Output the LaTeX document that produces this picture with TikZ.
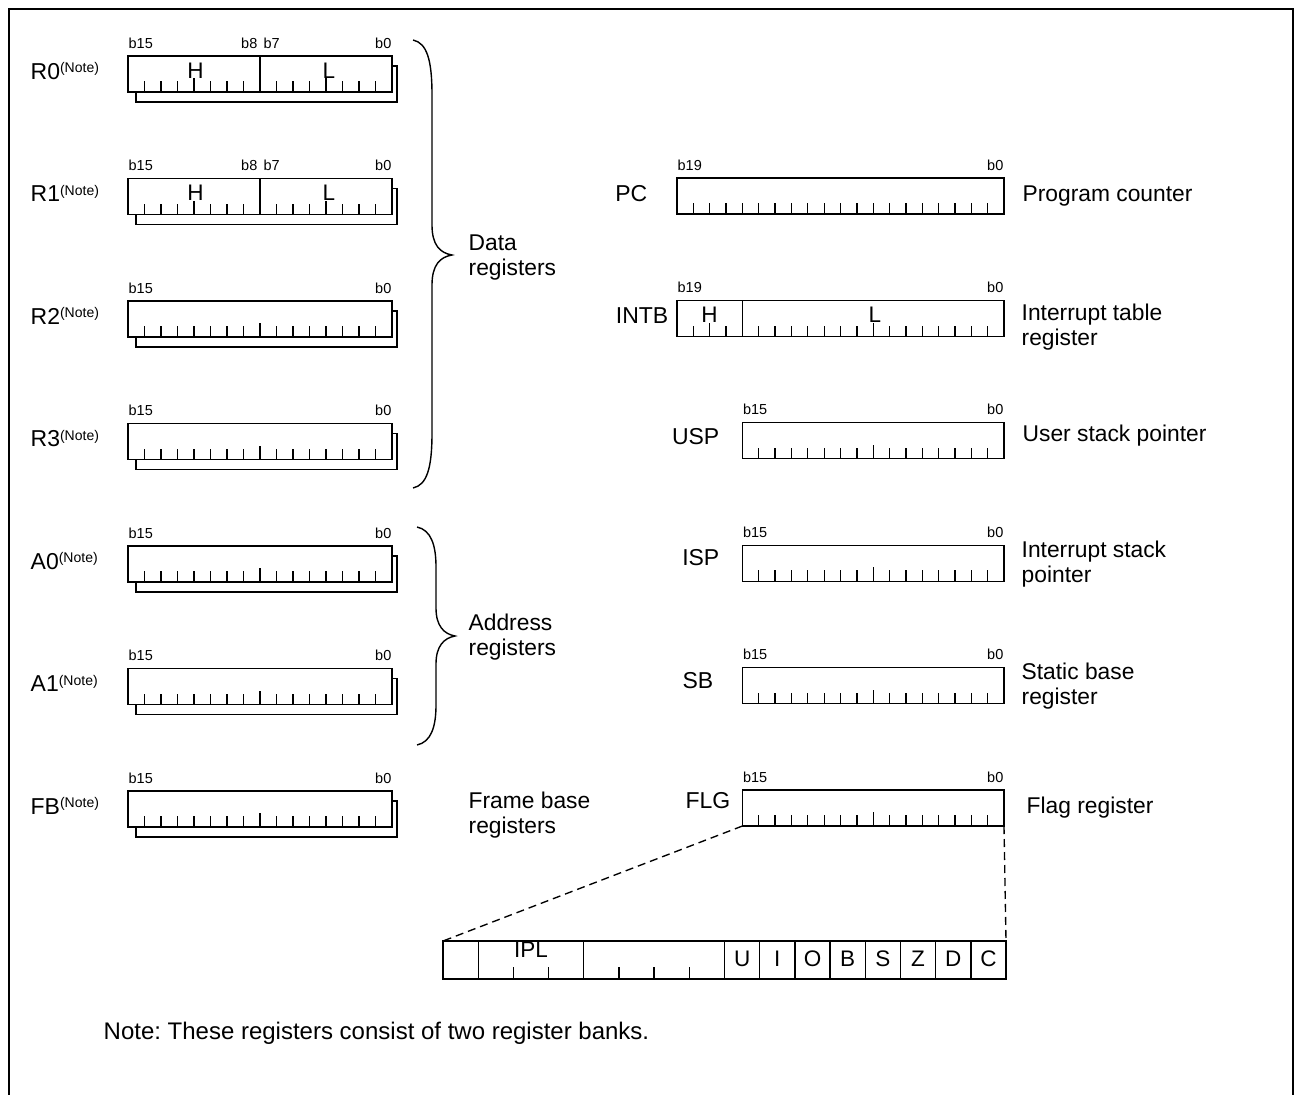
\documentclass[tikz,border=0pt]{standalone}
\usepackage{fontspec}
\setmainfont{Liberation Sans}
\newcommand\LReg[3]{%
  \draw (136,#2+10) rectangle (397,#2+46);
  \node[reg,minimum width=264pt,minimum height=36pt] (#1) at (128,#2) {};
  \node[blbl,anchor=base west] (#1msb) at (128,#2-8) {b15};
  \node[blbl,anchor=base east] (#1lsb) at (392,#2-8) {b0};
  \node[lbl,anchor=base west] (#1lbl) at (30,#2+23) {#3\raisebox{6.5pt}{\fontsize{14}{14}\selectfont(Note)}};
  \foreach \i in {1,...,15} \draw[tick] (128+\i*16.5,#2+36) -- ++(0,-11);
}
\newcommand\RReg[7]{%
  \node[reg,minimum width=#4pt,minimum height=36pt] (#1) at (#2,#3) {};
  \node[blbl,anchor=base west] (#1msb) at (#2,#3-8) {#7};
  \node[blbl,anchor=base east] (#1lsb) at (#2+#4,#3-8) {b0};
  \foreach \i in {1,...,#6} \draw[tick] (#2+\i*#5,#3+36) -- ++(0,-11);
}
\begin{document}
\frenchspacing
\begin{tikzpicture}[x=1pt,y=-1pt,line width=1.35pt,
  reg/.style={draw,fill=white,inner sep=0pt,outer sep=0pt,anchor=north west},
  tick/.style={line width=1.3pt},
  lbl/.style={inner sep=0pt,font=\fontsize{23}{25}\selectfont},
  desc/.style={inner sep=0pt,align=left,anchor=west,font=\fontsize{22.8}{25}\selectfont},
  blbl/.style={inner sep=0pt,font=\fontsize{14.5}{16}\selectfont},
  hl/.style={inner sep=0pt,font=\fontsize{22.5}{22}\selectfont},
  brace/.style={line width=1.4pt},
  frame/.style={line width=1.6pt},
  zoomline/.style={dash pattern=on 8pt off 5pt}]
\useasboundingbox (0,0) rectangle (1294,1095);
\draw[frame] (9,1095) -- (9,9) -- (1293,9) -- (1293,1095);

% ---------- left registers ----------
\LReg{r0}{56}{R0}
\LReg{r1}{178.5}{R1}
\LReg{r2}{301}{R2}
\LReg{r3}{423.5}{R3}
\LReg{a0}{546}{A0}
\LReg{a1}{668.5}{A1}
\LReg{fb}{791}{FB}
% H/L split of R0 and R1
\foreach \t/\n in {56/r0,178.5/r1}{
  \draw (260,\t) -- (260,\t+36);
  \draw[tick] (194,\t+36) -- ++(0,-14);
  \draw[tick] (326,\t+36) -- ++(0,-14);
  \node[blbl,anchor=base east] at (258,\t-8) {b8};
  \node[blbl,anchor=base west] at (263,\t-8) {b7};
  \node[hl,anchor=base] at (195.5,\t+22) {H};
  \node[hl,anchor=base west] at (322,\t+22) {L};
}
\foreach \t in {301,423.5,546,668.5,791}
  \draw[tick] (260,\t+36) -- ++(0,-14);

% braces and group labels
\draw[brace] (413,40) .. controls (427,43) and (432,60) .. (432,95) -- (432,225)
  .. controls (432,245) and (440,253) .. (452,255)
  .. controls (440,257) and (432,265) .. (432,285) -- (432,433)
  .. controls (432,468) and (427,485) .. (413,488);
\draw[brace] (417,527) .. controls (431,530) and (436,545) .. (436,567) -- (436,608)
  .. controls (436,626) and (444,634) .. (455,636)
  .. controls (444,638) and (436,646) .. (436,664) -- (436,705)
  .. controls (436,727) and (431,742) .. (417,745);
\node[desc] (datad) at (468,258) {Data\\registers};
\node[desc] (addrd) at (468,637) {Address\\registers};
\node[desc] (fbd) at (468,815) {Frame base\\registers};

% ---------- right registers ----------
\RReg{pc}{677}{178}{327}{16.35}{19}{b19}
\RReg{intb}{677}{300.5}{327}{16.35}{19}{b19}
\RReg{usp}{742.4}{422.8}{261.6}{16.35}{15}{b15}
\RReg{isp}{742.4}{545.2}{261.6}{16.35}{15}{b15}
\RReg{sb}{742.4}{667.6}{261.6}{16.35}{15}{b15}
\RReg{flg}{742.4}{790}{261.6}{16.35}{15}{b15}
% INTB split
\draw (742.4,300.5) -- (742.4,336.5);
\draw[tick] (709.7,336.5) -- ++(0,-14);
\draw[tick] (873.2,336.5) -- ++(0,-14);
\node[hl,anchor=base] at (709.5,322.5) {H};
\node[hl,anchor=base west] at (868,322.5) {L};
% middle ticks of 16-bit registers
\foreach \t in {422.8,545.2,667.6,790}
  \draw[tick] (873.2,\t+36) -- ++(0,-14);

\node[lbl,anchor=base east] (pcl) at (648,201) {PC};
\node[lbl,anchor=base east] (intbl) at (669,323) {INTB};
\node[lbl,anchor=base east] (uspl) at (720,444) {USP};
\node[lbl,anchor=base east] (ispl) at (720,565) {ISP};
\node[lbl,anchor=base east] (sbl) at (714,688) {SB};
\node[lbl,anchor=base east] (flgl) at (731,808) {FLG};

\node[desc] (pcd) at (1022,196) {Program counter};
\node[desc] (intbd) at (1021,327) {Interrupt table\\register};
\node[desc] (uspd) at (1022,436) {User stack pointer};
\node[desc] (ispd) at (1021,564) {Interrupt stack\\pointer};
\node[desc] (sbd) at (1021,686) {Static base\\register};
\node[desc] (flgd) at (1026,808) {Flag register};

% ---------- FLG expansion ----------
\node[reg,minimum width=563pt,minimum height=38pt] (flgx) at (443,941) {};
\foreach \k in {1,4,8,9,10,11,12,13,14,15}
  \draw (443+\k*35.19,941) -- ++(0,38);
\foreach \k in {2,3,5,6,7}
  \draw[tick] (443+\k*35.19,979) -- ++(0,-12);
\node[hl,anchor=base] (ipl) at (531,957) {IPL};
\foreach \k/\t in {8/U,9/I,10/O,11/B,12/S,13/Z,14/D,15/C}
  \node[hl,anchor=base] at (443+\k*35.19+17.6,966) {\t};
\draw[zoomline] (flg.south west) -- (flgx.north west);
\draw[zoomline] (flg.south east) -- (flgx.north east);

\node[inner sep=0pt,anchor=west,font=\fontsize{24}{25}\selectfont] (note) at (103,1033) {Note: These registers consist of two register banks.};
\end{tikzpicture}
\end{document}
